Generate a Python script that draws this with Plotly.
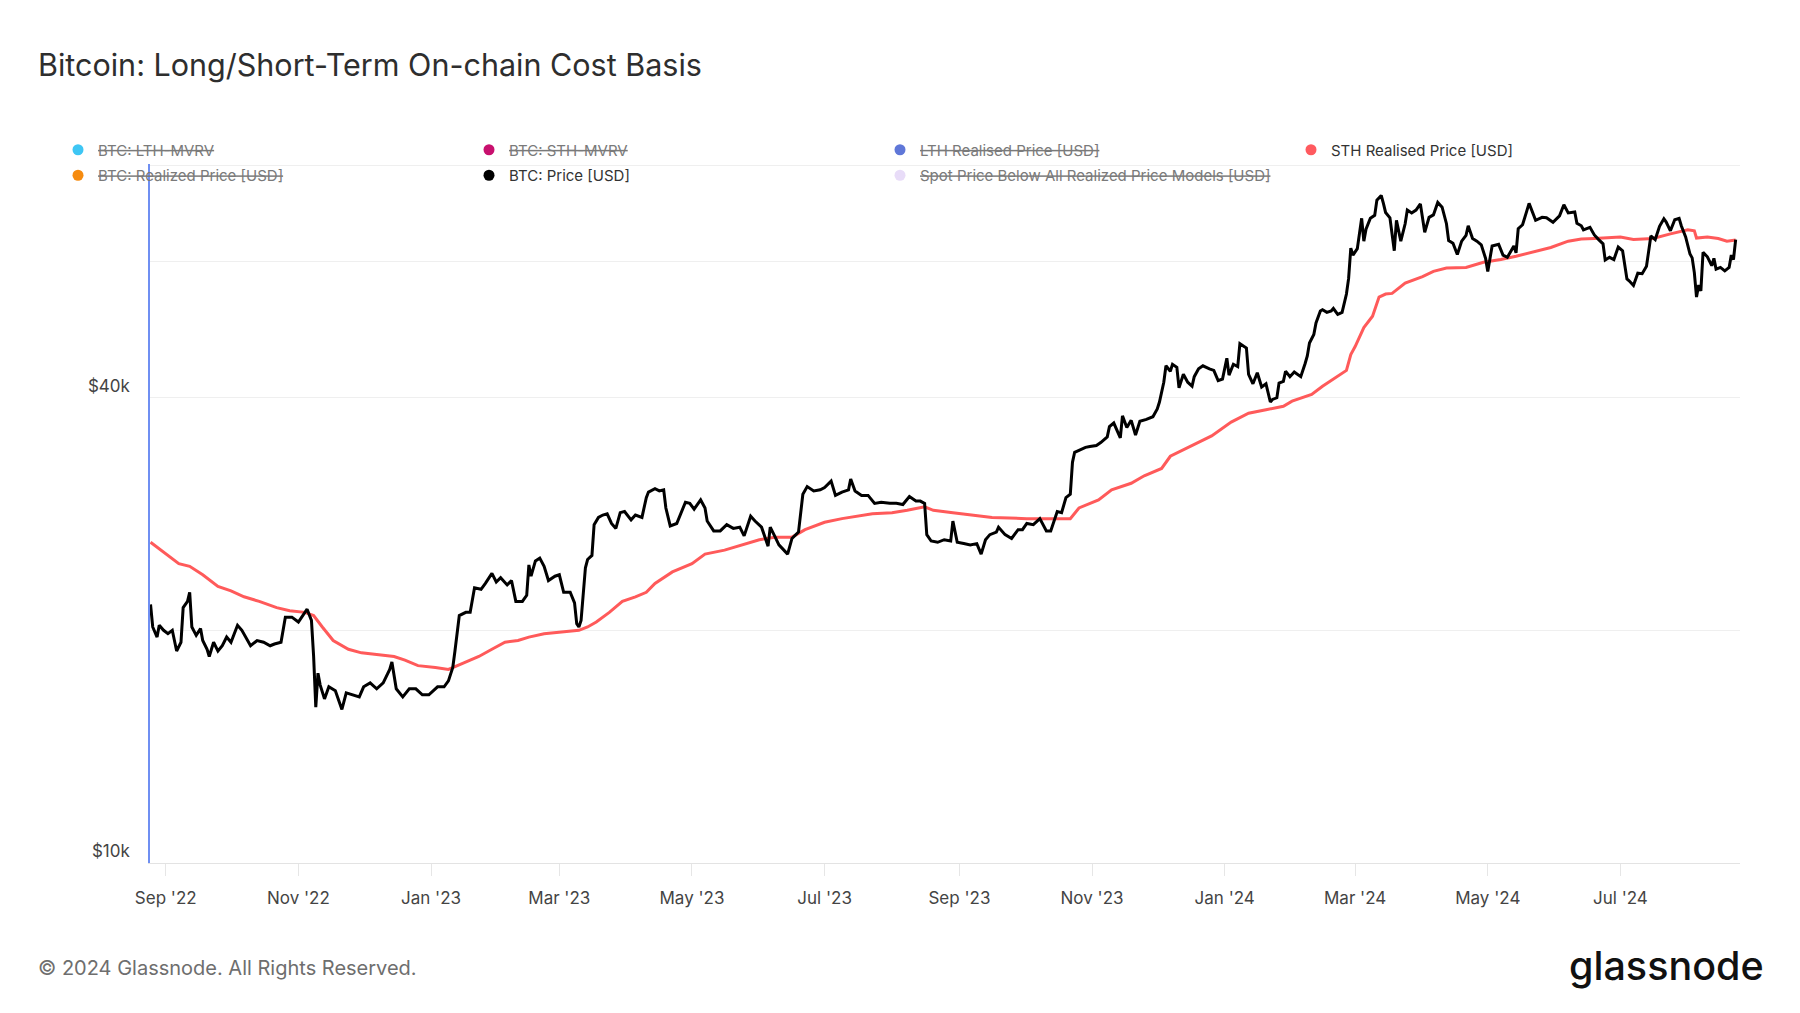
import plotly.graph_objects as go
import math

# ---------------- data ----------------
price_dates = [
    "2022-08-25","2022-08-26","2022-08-28","2022-08-29","2022-08-31","2022-09-02","2022-09-04","2022-09-06","2022-09-08","2022-09-09",
    "2022-09-11","2022-09-12","2022-09-13","2022-09-15","2022-09-17","2022-09-18","2022-09-20","2022-09-21","2022-09-23","2022-09-25",
    "2022-09-27","2022-09-29","2022-10-01","2022-10-04","2022-10-06","2022-10-08","2022-10-10","2022-10-13","2022-10-16","2022-10-19",
    "2022-10-21","2022-10-24","2022-10-26","2022-10-29","2022-11-01","2022-11-05","2022-11-07","2022-11-08","2022-11-09","2022-11-10",
    "2022-11-11","2022-11-13","2022-11-15","2022-11-18","2022-11-21","2022-11-23","2022-11-26","2022-11-29","2022-12-01","2022-12-04",
    "2022-12-07","2022-12-10","2022-12-13","2022-12-14","2022-12-16","2022-12-19","2022-12-22","2022-12-25","2022-12-28","2022-12-31",
    "2023-01-04","2023-01-07","2023-01-09","2023-01-11","2023-01-12","2023-01-13","2023-01-14","2023-01-17","2023-01-19","2023-01-21",
    "2023-01-24","2023-01-26","2023-01-29","2023-01-31","2023-02-02","2023-02-05","2023-02-07","2023-02-09","2023-02-12","2023-02-14",
    "2023-02-15","2023-02-16","2023-02-18","2023-02-20","2023-02-22","2023-02-24","2023-02-27","2023-03-01","2023-03-03","2023-03-06",
    "2023-03-08","2023-03-09","2023-03-10","2023-03-11","2023-03-12","2023-03-13","2023-03-14","2023-03-16","2023-03-17","2023-03-19",
    "2023-03-21","2023-03-23","2023-03-25","2023-03-27","2023-03-29","2023-03-31","2023-04-03","2023-04-05","2023-04-08","2023-04-10",
    "2023-04-11","2023-04-14","2023-04-16","2023-04-18","2023-04-19","2023-04-21","2023-04-24","2023-04-26","2023-04-28","2023-04-30",
    "2023-05-02","2023-05-05","2023-05-07","2023-05-08","2023-05-11","2023-05-14","2023-05-17","2023-05-20","2023-05-23","2023-05-25",
    "2023-05-28","2023-05-30","2023-06-02","2023-06-05","2023-06-06","2023-06-08","2023-06-10","2023-06-14","2023-06-16","2023-06-19",
    "2023-06-20","2023-06-21","2023-06-23","2023-06-26","2023-06-29","2023-07-01","2023-07-04","2023-07-06","2023-07-09","2023-07-12",
    "2023-07-13","2023-07-15","2023-07-18","2023-07-21","2023-07-24","2023-07-27","2023-07-31","2023-08-03","2023-08-06","2023-08-09",
    "2023-08-12","2023-08-14","2023-08-16","2023-08-17","2023-08-19","2023-08-22","2023-08-25","2023-08-28","2023-08-29","2023-08-31",
    "2023-09-03","2023-09-06","2023-09-09","2023-09-11","2023-09-13","2023-09-15","2023-09-18","2023-09-19","2023-09-22","2023-09-25",
    "2023-09-28","2023-09-30","2023-10-02","2023-10-05","2023-10-08","2023-10-11","2023-10-13","2023-10-16","2023-10-18","2023-10-20",
    "2023-10-22","2023-10-23","2023-10-24","2023-10-26","2023-10-29","2023-10-31","2023-11-03","2023-11-05","2023-11-08","2023-11-09",
    "2023-11-11","2023-11-14","2023-11-15","2023-11-17","2023-11-19","2023-11-21","2023-11-23","2023-11-26","2023-11-29","2023-12-01",
    "2023-12-02","2023-12-04","2023-12-05","2023-12-07","2023-12-08","2023-12-10","2023-12-11","2023-12-13","2023-12-15","2023-12-17",
    "2023-12-18","2023-12-20","2023-12-22","2023-12-25","2023-12-27","2023-12-29","2023-12-31","2024-01-02","2024-01-03","2024-01-05",
    "2024-01-07","2024-01-08","2024-01-10","2024-01-11","2024-01-12","2024-01-14","2024-01-16","2024-01-18","2024-01-20","2024-01-22",
    "2024-01-23","2024-01-25","2024-01-26","2024-01-28","2024-01-29","2024-01-31","2024-02-02","2024-02-05","2024-02-07","2024-02-08",
    "2024-02-09","2024-02-11","2024-02-12","2024-02-14","2024-02-15","2024-02-17","2024-02-19","2024-02-20","2024-02-22","2024-02-24",
    "2024-02-26","2024-02-27","2024-02-28","2024-02-29","2024-03-02","2024-03-04","2024-03-05","2024-03-06","2024-03-08","2024-03-10",
    "2024-03-11","2024-03-13","2024-03-14","2024-03-15","2024-03-17","2024-03-19","2024-03-20","2024-03-21","2024-03-22","2024-03-24",
    "2024-03-25","2024-03-27","2024-03-29","2024-03-31","2024-04-02","2024-04-04","2024-04-06","2024-04-08","2024-04-10","2024-04-12",
    "2024-04-13","2024-04-15","2024-04-17","2024-04-19","2024-04-21","2024-04-22","2024-04-24","2024-04-26","2024-04-28","2024-04-30",
    "2024-05-01","2024-05-03","2024-05-06","2024-05-08","2024-05-10","2024-05-13","2024-05-14","2024-05-15","2024-05-17","2024-05-20",
    "2024-05-21","2024-05-23","2024-05-26","2024-05-28","2024-05-31","2024-06-03","2024-06-05","2024-06-07","2024-06-10","2024-06-11",
    "2024-06-13","2024-06-14","2024-06-17","2024-06-19","2024-06-21","2024-06-23","2024-06-24","2024-06-26","2024-06-28","2024-06-30",
    "2024-07-02","2024-07-04","2024-07-05","2024-07-07","2024-07-09","2024-07-11","2024-07-13","2024-07-15","2024-07-17","2024-07-19",
    "2024-07-21","2024-07-22","2024-07-24","2024-07-26","2024-07-28","2024-07-29","2024-07-31","2024-08-02","2024-08-03","2024-08-04",
    "2024-08-05","2024-08-06","2024-08-07","2024-08-08","2024-08-10","2024-08-12","2024-08-13","2024-08-14","2024-08-16","2024-08-18",
    "2024-08-20","2024-08-21","2024-08-22","2024-08-23",
]
price_k = [
    21.6,20.2,19.6,20.3,20.0,19.8,20.0,18.8,19.3,21.4,
    21.8,22.4,20.2,19.7,20.1,19.4,18.9,18.5,19.3,18.8,
    19.1,19.6,19.3,20.3,20.0,19.5,19.1,19.4,19.3,19.1,
    19.2,19.3,20.8,20.8,20.5,21.3,20.6,18.5,15.9,17.6,
    17.0,16.3,16.9,16.7,15.8,16.6,16.5,16.4,16.9,17.1,
    16.8,17.1,17.8,18.2,16.8,16.4,16.8,16.8,16.5,16.5,
    16.9,16.9,17.2,17.9,18.8,19.9,20.9,21.1,21.1,22.7,
    22.6,23.0,23.7,23.1,23.4,22.9,23.2,21.8,21.8,22.2,
    24.3,23.5,24.6,24.8,24.2,23.2,23.5,23.6,22.4,22.4,
    21.7,20.4,20.2,20.6,22.1,24.1,24.7,25.0,27.4,28.0,
    28.2,28.3,27.5,27.1,28.4,28.5,27.8,28.2,28.0,29.7,
    30.2,30.5,30.3,30.4,28.8,27.3,27.5,28.4,29.3,29.2,
    28.7,29.5,28.8,27.7,26.9,26.9,27.4,27.1,27.2,26.5,
    28.1,27.7,27.2,25.7,27.2,26.5,25.8,25.1,26.3,26.8,
    28.3,30.0,30.7,30.3,30.4,30.6,31.2,29.9,30.2,30.4,
    31.4,30.3,29.9,29.9,29.2,29.3,29.2,29.2,29.1,29.8,
    29.4,29.4,29.2,26.6,26.1,26.0,26.2,26.1,27.7,26.0,
    25.9,25.8,25.9,25.1,26.2,26.6,26.8,27.2,26.6,26.3,
    27.0,27.0,27.5,27.4,27.9,26.9,26.9,28.5,28.4,29.7,
    30.0,33.0,34.0,34.2,34.5,34.6,34.7,35.0,35.6,36.7,
    37.1,35.5,37.9,36.6,37.4,35.8,37.3,37.5,37.8,38.7,
    39.5,41.9,44.0,43.3,44.2,43.8,41.2,42.9,41.9,41.4,
    42.6,43.6,44.0,43.6,43.4,42.1,42.3,45.0,42.8,44.2,
    43.9,47.0,46.6,46.4,42.9,41.7,43.1,41.3,41.7,39.5,
    39.8,40.0,41.8,42.0,43.3,42.6,43.2,42.6,44.3,45.3,
    47.1,48.3,50.0,51.8,52.0,51.6,51.8,52.2,51.3,51.6,
    54.5,57.1,62.5,61.2,62.4,68.3,63.8,66.1,68.3,68.9,
    72.1,73.1,71.4,69.5,68.4,62.0,67.9,65.5,63.8,67.2,
    70.0,69.4,70.0,71.3,65.5,68.5,69.0,71.6,70.6,67.2,
    63.9,63.4,61.3,63.8,64.9,66.8,64.3,63.8,63.1,60.6,
    58.3,62.9,63.2,61.2,60.8,62.9,61.6,66.2,67.0,71.4,
    70.1,67.9,68.5,68.4,67.5,68.8,71.1,69.4,69.6,67.3,
    66.8,66.0,66.5,65.0,64.1,63.3,60.3,60.8,60.4,62.7,
    62.0,57.0,56.7,55.9,58.0,57.9,59.2,64.8,64.1,66.7,
    68.2,67.6,65.8,68.0,68.3,66.8,64.6,61.4,60.7,58.1,
    54.0,56.0,55.0,61.7,60.9,59.3,60.6,58.7,59.0,58.4,
    59.0,61.2,60.4,64.1,
]

sth_dates = [
    "2022-08-25","2022-09-01","2022-09-07","2022-09-12","2022-09-18","2022-09-25","2022-10-01","2022-10-07","2022-10-14","2022-10-22",
    "2022-10-28","2022-11-04","2022-11-08","2022-11-12","2022-11-17","2022-11-24","2022-11-30","2022-12-08","2022-12-15","2022-12-20",
    "2022-12-26","2023-01-03","2023-01-09","2023-01-15","2023-01-23","2023-01-29","2023-02-04","2023-02-10","2023-02-15","2023-02-22",
    "2023-03-02","2023-03-10","2023-03-14","2023-03-18","2023-03-24","2023-03-30","2023-04-05","2023-04-10","2023-04-14","2023-04-22",
    "2023-05-01","2023-05-07","2023-05-16","2023-05-22","2023-06-01","2023-06-08","2023-06-16","2023-06-22","2023-07-01","2023-07-09",
    "2023-07-17","2023-07-23","2023-08-01","2023-08-08","2023-08-16","2023-08-20","2023-08-29","2023-09-08","2023-09-16","2023-10-02",
    "2023-10-12","2023-10-22","2023-10-26","2023-11-04","2023-11-10","2023-11-19","2023-11-25","2023-12-03","2023-12-07","2023-12-16",
    "2023-12-26","2024-01-04","2024-01-12","2024-01-20","2024-01-28","2024-02-01","2024-02-10","2024-02-15","2024-02-21","2024-02-26",
    "2024-02-28","2024-03-01","2024-03-05","2024-03-09","2024-03-12","2024-03-15","2024-03-18","2024-03-24","2024-04-01","2024-04-06",
    "2024-04-12","2024-04-21","2024-04-29","2024-05-07","2024-05-14","2024-05-22","2024-05-30","2024-06-07","2024-06-13","2024-06-19",
    "2024-06-25","2024-07-01","2024-07-07","2024-07-16","2024-07-24","2024-08-01","2024-08-04","2024-08-05","2024-08-10","2024-08-15",
    "2024-08-19","2024-08-23",
]
sth_k = [
    26.0,25.1,24.4,24.2,23.6,22.8,22.5,22.1,21.8,21.4,
    21.2,21.1,20.9,20.2,19.4,18.9,18.7,18.6,18.5,18.3,
    18.0,17.9,17.8,18.1,18.5,18.9,19.3,19.4,19.6,19.8,
    19.9,20.0,20.2,20.5,21.1,21.8,22.1,22.4,23.0,23.8,
    24.4,25.1,25.4,25.7,26.2,26.4,26.4,27.0,27.6,27.9,
    28.1,28.3,28.4,28.6,28.9,28.6,28.4,28.2,28.0,27.9,
    27.9,27.9,28.8,29.5,30.4,31.0,31.7,32.4,33.6,34.6,
    35.7,37.2,38.2,38.6,39.0,39.6,40.4,41.4,42.5,43.4,
    45.5,46.6,49.3,51.0,54.0,54.5,54.6,56.3,57.4,58.3,
    58.9,59.0,59.9,60.4,61.0,61.8,62.6,63.8,64.2,64.3,
    64.5,64.6,64.1,64.3,65.2,66.0,65.8,64.4,64.6,64.3,
    63.8,64.0,
]

y_tick_values = [10000, 20000, 40000, 60000, 80000]
y_tick_labels = ["$10k", "", "$40k", "", ""]

legend_row1 = [("BTC: LTH-MVRV", "#3ec6f4", True), ("BTC: STH-MVRV", "#c8106e", True),
               ("LTH Realised Price [USD]", "#5f77d8", True), ("STH Realised Price [USD]", "#ff5a5f", False)]
legend_row2 = [("BTC: Realized Price [USD]", "#f68b0f", True), ("BTC: Price [USD]", "#000000", False),
               ("Spot Price Below All Realized Price Models [USD]", "#e8dcf8", True)]

# ---------------- figure ----------------
FONT = "Inter, 'Noto Sans', sans-serif"
price_usd = [v * 1000 for v in price_k]
sth_usd = [v * 1000 for v in sth_k]

fig = go.Figure()
fig.add_trace(go.Scatter(x=sth_dates, y=sth_usd, mode="lines", name="STH Realised Price [USD]",
                         line=dict(color="#ff5a5a", width=3), showlegend=False, hoverinfo="skip"))
fig.add_trace(go.Scatter(x=price_dates, y=price_usd, mode="lines", name="BTC: Price [USD]",
                         line=dict(color="#000000", width=3), showlegend=False, hoverinfo="skip"))

for legend_id, row in (("legend", legend_row1), ("legend2", legend_row2)):
    for name, color, hidden in row:
        label = f"<span style='color:#7a7a7a'><s>{name}</s></span>" if hidden else name
        fig.add_trace(go.Scatter(x=[None], y=[None], mode="markers", name=label,
                                 marker=dict(color=color, size=11, symbol="circle"),
                                 legend=legend_id, showlegend=True))

W, H = 1800, 1013
L, R, T, B = 150, 60, 164, 150
pw, ph = W - L - R, H - T - B


def px_x(x):
    return (x - L) / pw


def px_y(y):
    return (H - B - y) / ph


legend_common = dict(orientation="h", xanchor="left", yanchor="top", entrywidth=366,
                     entrywidthmode="pixels", font=dict(family=FONT, size=15, color="#333333"),
                     bgcolor="rgba(0,0,0,0)", borderwidth=0, itemsizing="trace", itemclick=False)

fig.update_layout(
    width=W, height=H,
    margin=dict(l=L, r=R, t=T, b=B),
    paper_bgcolor="white", plot_bgcolor="white",
    font=dict(family=FONT, color="#444444"),
    legend=dict(x=px_x(58), y=px_y(133.5), **legend_common),
    legend2=dict(x=px_x(58), y=px_y(159), **legend_common),
    xaxis=dict(
        type="date", range=["2022-08-24 18:00", "2024-08-25"],
        tick0="2022-09-01", dtick="M2", tickformat="%b '%y",
        ticks="outside", ticklen=12, tickcolor="#e6e6e6", tickwidth=1, ticklabelstandoff=8,
        showgrid=False, showline=True, linecolor="#e3e3e3", linewidth=1,
        tickfont=dict(family=FONT, size=17, color="#444444"), zeroline=False,
    ),
    yaxis=dict(
        type="log", range=[math.log10(9995), math.log10(80300)],
        tickvals=y_tick_values, ticktext=y_tick_labels,
        ticklabelposition="outside top", ticks="", ticklabelstandoff=15,
        showgrid=True, gridcolor="#efefef", gridwidth=1,
        showline=True, linecolor="#6f8ff2", linewidth=1.5,
        tickfont=dict(family=FONT, size=17, color="#444444"), zeroline=False,
    ),
    annotations=[
        dict(text="Bitcoin: Long/Short-Term On-chain Cost Basis", xref="paper", yref="paper",
             x=px_x(36), y=px_y(64), xanchor="left", yanchor="middle", showarrow=False,
             font=dict(family=FONT, size=30.5, color="#2e2e2e")),
        dict(text="© 2024 Glassnode. All Rights Reserved.", xref="paper", yref="paper",
             x=px_x(36), y=px_y(968), xanchor="left", yanchor="middle", showarrow=False,
             font=dict(family=FONT, size=20, color="#6e6e6e")),
        dict(text="glassnode", xref="paper", yref="paper",
             x=px_x(1766), y=px_y(966), xanchor="right", yanchor="middle", showarrow=False,
             font=dict(family=FONT, size=39.5, color="#111111", weight=500)),
    ],
)

fig.write_html("out.html", config={"displayModeBar": False},
               post_script="document.body.style.margin='0';document.body.style.overflow='hidden';")
